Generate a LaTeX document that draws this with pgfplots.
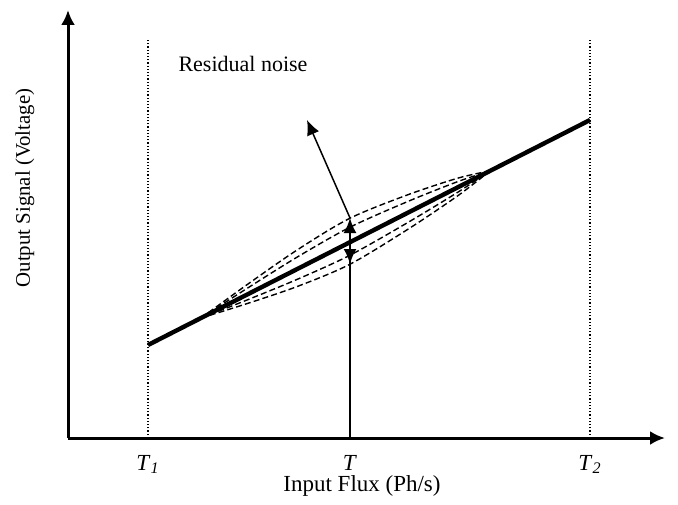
\documentclass[border=0pt]{standalone}
\usepackage{fontspec}
\setmainfont{Liberation Serif}
\usepackage{pgfplots}
\pgfplotsset{compat=1.18}
\usetikzlibrary{arrows.meta}

\begin{document}
\begin{tikzpicture}
\begin{axis}[
  x=0.5pt, y=0.5pt,
  xmin=0, xmax=597, ymin=0, ymax=428,
  enlargelimits=false, clip=false,
  axis lines=left,
  axis line style={line width=1.5pt},
  every inner x axis line/.append style={-{Latex[length=7.5pt,width=7pt]}},
  every inner y axis line/.append style={-{Latex[length=7.5pt,width=7pt]}},
  every outer x axis line/.append style={-{Latex[length=7.5pt,width=7pt]}},
  every outer y axis line/.append style={-{Latex[length=7.5pt,width=7pt]}},
  xtick={80,282,522},
  xticklabels={\textit{T}\textsubscript{\textit{1}}, \textit{T}, \textit{T}\textsubscript{\textit{2}}},
  ytick=\empty,
  major tick length=0pt,
  xticklabel style={font=\fontsize{11.5}{13}\selectfont, yshift=-5pt},
  xlabel={Input Flux (Ph/s)},
  ylabel={Output Signal (Voltage)},
  xlabel style={font=\fontsize{11.5}{13}\selectfont, at={(axis description cs:0.4925,-0.112)}, anchor=center},
  ylabel style={font=\fontsize{10.4}{12}\selectfont, at={(axis description cs:-0.072,0.584)}, anchor=center},
]
% frame of the whole picture
\path (axis cs:-68,-66) rectangle (axis cs:610,438);

% dotted limits T1 and T2
\addplot[densely dotted, line width=0.6pt] coordinates {(80,0) (80,398)};
\addplot[densely dotted, line width=0.6pt] coordinates {(522,0) (522,398)};

% dashed noise curves
\addplot[dash pattern=on 3pt off 1.6pt, line width=0.7pt, smooth] coordinates {
  (133,120.0) (180,154.0) (230,188.6) (282,219.8) (340,243.3) (390,259.9) (422,267.1)};
\addplot[dash pattern=on 3pt off 1.6pt, line width=0.7pt, smooth] coordinates {
  (133,120.0) (180,150.2) (230,181.4) (282,210.8) (340,236.6) (390,256.5) (422,267.1)};
\addplot[dash pattern=on 3pt off 1.6pt, line width=0.7pt, smooth] coordinates {
  (133,120.0) (180,138.4) (230,159.0) (282,182.8) (340,215.6) (390,245.9) (422,267.1)};
\addplot[dash pattern=on 3pt off 1.6pt, line width=0.7pt, smooth] coordinates {
  (133,120.0) (180,134.7) (230,151.8) (282,173.8) (340,208.8) (390,242.4) (422,267.1)};

% linear response
\addplot[line width=2.2pt] coordinates {(80,93) (522,318)};

% vertical line at T with arrows
\addplot[line width=1pt, -{Latex[length=7.5pt,width=6.5pt]}] coordinates {(282,0) (282,220)};
\addplot[line width=1pt, -{Latex[length=7.5pt,width=6.5pt]}] coordinates {(282,199) (282,174)};
\addplot[line width=0.75pt, -{Latex[length=7.5pt,width=6.5pt]}] coordinates {(282,220) (239,318)};

\node[font=\fontsize{11}{13}\selectfont] at (axis cs:175,374) {Residual noise};
\end{axis}
\end{tikzpicture}
\end{document}
